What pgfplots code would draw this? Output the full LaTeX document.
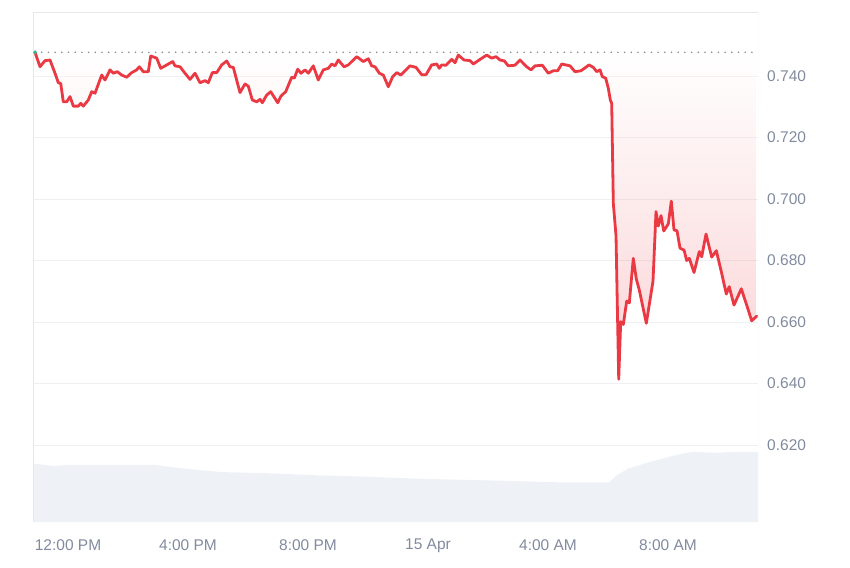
\documentclass[border=0pt]{standalone}
\usepackage{fontspec}
\setmainfont{Liberation Sans}
\usepackage{pgfplots}
\usepackage{pgfplotstable}
\pgfplotsset{compat=1.18}
\definecolor{cgred}{RGB}{234,57,67}
\definecolor{labgray}{RGB}{130,139,158}
\definecolor{gridc}{RGB}{238,240,243}
\definecolor{borderc}{RGB}{230,232,236}
\definecolor{volc}{RGB}{238,241,245}
\definecolor{dotc}{RGB}{140,142,148}
\definecolor{startg}{RGB}{56,185,140}
\pgfplotstableread{
h p
-1.100 0.7477
-0.933 0.7430
-0.767 0.7450
-0.600 0.7452
-0.433 0.7409
-0.323 0.7378
-0.243 0.7376
-0.157 0.7316
-0.043 0.7316
0.067 0.7333
0.177 0.7302
0.343 0.7302
0.423 0.7311
0.510 0.7302
0.677 0.7322
0.790 0.7349
0.900 0.7344
1.123 0.7403
1.233 0.7387
1.400 0.7420
1.510 0.7409
1.643 0.7414
1.790 0.7403
1.957 0.7396
2.123 0.7411
2.290 0.7420
2.377 0.7430
2.510 0.7414
2.677 0.7414
2.757 0.7465
2.957 0.7458
3.090 0.7425
3.290 0.7436
3.490 0.7447
3.567 0.7433
3.733 0.7430
3.900 0.7409
4.067 0.7389
4.233 0.7409
4.400 0.7378
4.567 0.7385
4.677 0.7378
4.810 0.7411
4.957 0.7411
5.123 0.7436
5.290 0.7449
5.400 0.7430
5.510 0.7428
5.733 0.7346
5.900 0.7374
6.010 0.7367
6.143 0.7322
6.290 0.7316
6.400 0.7324
6.477 0.7313
6.623 0.7338
6.757 0.7349
6.990 0.7313
7.100 0.7335
7.257 0.7349
7.457 0.7396
7.543 0.7393
7.657 0.7422
7.767 0.7409
7.900 0.7420
8.010 0.7409
8.177 0.7433
8.343 0.7387
8.510 0.7420
8.677 0.7425
8.790 0.7439
8.900 0.7433
9.010 0.7452
9.200 0.7430
9.343 0.7436
9.623 0.7463
9.843 0.7447
10.010 0.7456
10.123 0.7433
10.233 0.7430
10.377 0.7409
10.510 0.7403
10.677 0.7365
10.823 0.7398
10.957 0.7411
11.090 0.7403
11.233 0.7417
11.400 0.7433
11.600 0.7428
11.790 0.7404
11.933 0.7404
12.123 0.7436
12.290 0.7439
12.377 0.7425
12.457 0.7436
12.600 0.7435
12.790 0.7454
12.900 0.7443
13.010 0.7468
13.200 0.7452
13.400 0.7450
13.510 0.7439
13.733 0.7454
13.957 0.7468
14.123 0.7458
14.267 0.7463
14.400 0.7452
14.543 0.7449
14.677 0.7433
14.900 0.7435
15.067 0.7452
15.290 0.7430
15.433 0.7420
15.567 0.7433
15.810 0.7435
16.010 0.7409
16.177 0.7417
16.323 0.7417
16.457 0.7439
16.733 0.7433
16.900 0.7414
17.100 0.7417
17.367 0.7436
17.510 0.7428
17.623 0.7414
17.733 0.7420
17.810 0.7398
17.923 0.7393
18.010 0.7360
18.077 0.7322
18.123 0.7311
18.177 0.6986
18.267 0.6880
18.357 0.6414
18.423 0.6601
18.510 0.6592
18.623 0.6668
18.710 0.6662
18.843 0.6807
18.943 0.6740
19.043 0.6704
19.277 0.6596
19.500 0.6733
19.600 0.6959
19.677 0.6912
19.767 0.6946
19.857 0.6896
20.010 0.6919
20.110 0.6993
20.200 0.6899
20.300 0.6897
20.400 0.6840
20.533 0.6834
20.623 0.6800
20.710 0.6807
20.867 0.6761
21.043 0.6829
21.123 0.6812
21.267 0.6886
21.457 0.6811
21.610 0.6832
21.790 0.6758
21.943 0.6691
22.040 0.6715
22.200 0.6655
22.443 0.6708
22.633 0.6652
22.790 0.6604
22.957 0.6619
}\pricedata
\pgfplotstableread{
h v
-1.167 11.5
-0.467 11.0
-0.1 11.2
2.97 11.2
3.13 11.0
4.05 10.4
5.13 9.8
6.57 9.6
8.2 9.2
10.0 8.9
11.27 8.6
12.35 8.4
14.52 8.1
16.32 7.8
18.03 7.8
18.3 9.2
18.67 10.5
19.4 11.8
20.3 13.2
20.83 13.8
21.57 13.6
22.27 13.8
23.0 13.8
}\voldata
\begin{document}
\begin{tikzpicture}
\useasboundingbox (-33pt,-45pt) rectangle (817pt,522pt);
% volume
\begin{axis}[
  scale only axis, width=725pt, height=509pt,
  xmin=-1.167, xmax=23.0, ymin=0, ymax=100,
  hide axis]
\addplot[draw=none, fill=volc] table[x=h, y=v] {\voldata} \closedcycle;
\end{axis}
% price
\begin{axis}[
  scale only axis, width=725pt, height=509pt,
  xmin=-1.167, xmax=23.0, ymin=0.59496, ymax=0.76049,
  axis line style={draw=none},
  major tick length=0pt, tick style={draw=none},
  ymajorgrids, grid style={gridc, line width=1pt},
  ytick={0.62,0.64,0.66,0.68,0.70,0.72,0.74},
  yticklabel pos=right,
  yticklabel style={anchor=west, inner sep=0pt, xshift=9pt, font=\fontsize{15.5}{18}\selectfont, text=labgray},
  /pgf/number format/.cd, fixed, fixed zerofill, precision=3, assume math mode=true,
  /pgfplots/.cd,
  xtick={0,4,8,12,16,20},
  xticklabels={12:00 PM,4:00 PM,8:00 PM,15 Apr,4:00 AM,8:00 AM},
  xticklabel style={anchor=north, inner sep=0pt, yshift=-17pt, font=\fontsize{15.5}{18}\selectfont, text=labgray}]
\draw[borderc, line width=1pt] (rel axis cs:0,0) -- (rel axis cs:0,1) -- (rel axis cs:1,1) -- (rel axis cs:1,0);
\addplot[draw=none, top color=white, bottom color=cgred, fill opacity=0.22] table[x=h, y=p] {\pricedata} -- (axis cs:22.957,0.7477) -- (axis cs:-1.1,0.7477) -- cycle;
\addplot[dotc, line width=1.8pt, line cap=round, dash pattern=on 0pt off 6.7pt] coordinates {(-1.1,0.7477) (22.957,0.7477)};
\addplot[cgred, line width=2.8pt, line join=round, line cap=round] table[x=h, y=p] {\pricedata};
\addplot[only marks, mark=*, mark size=1.8pt, startg] coordinates {(-1.1,0.7477)};
\end{axis}
\end{tikzpicture}
\end{document}
